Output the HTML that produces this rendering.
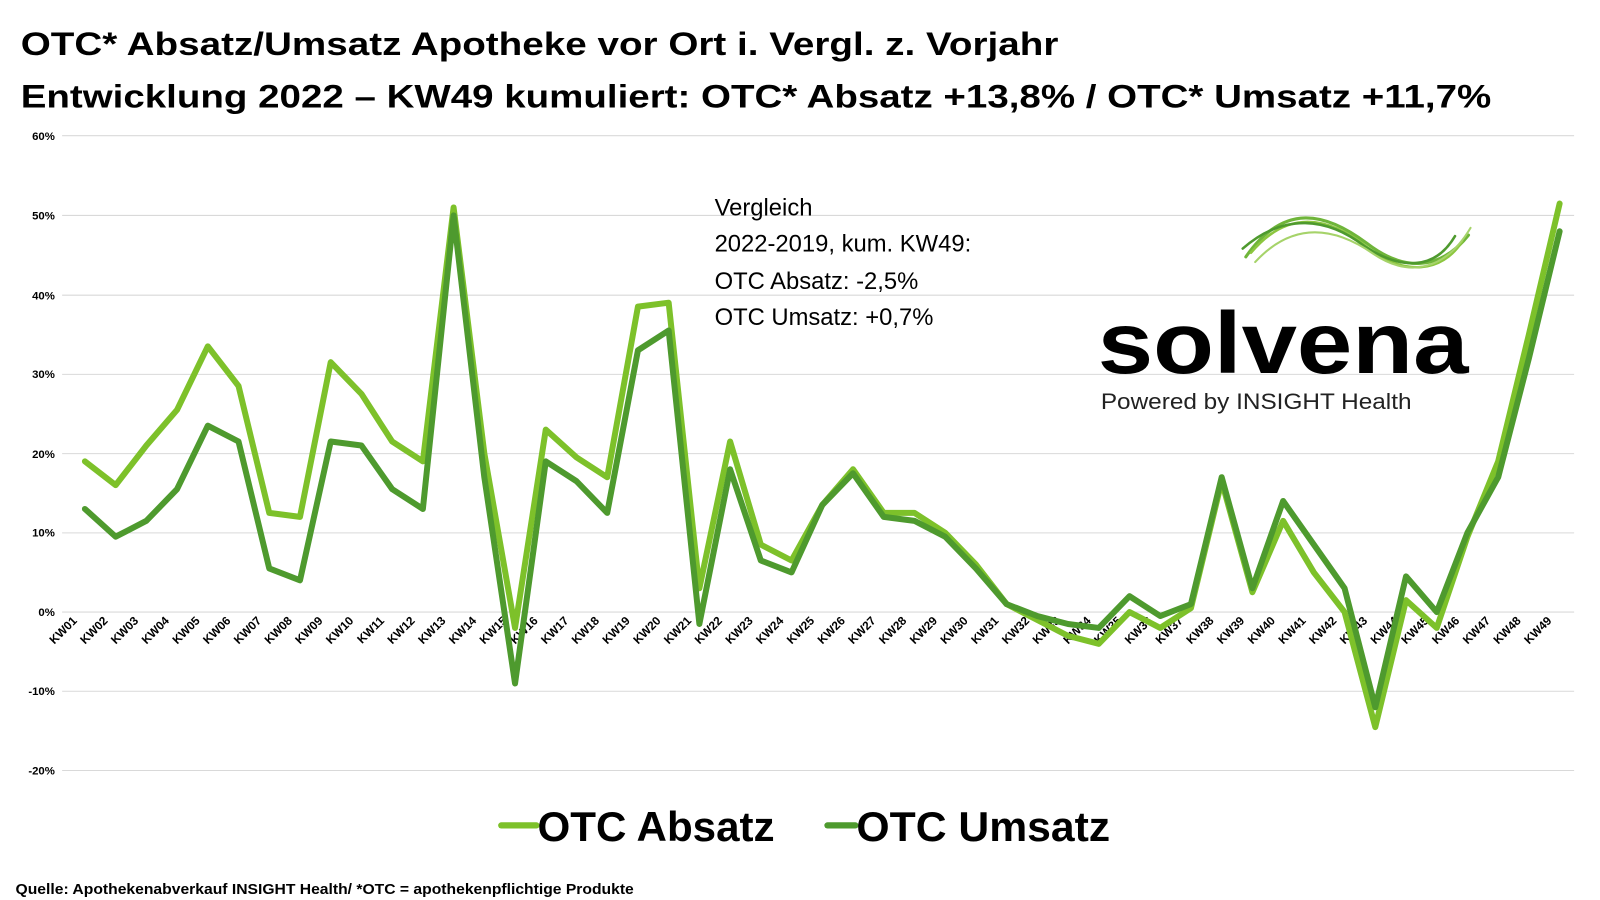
<!DOCTYPE html>
<html><head><meta charset="utf-8"><style>
html,body{margin:0;padding:0;background:#fff;width:1600px;height:900px;overflow:hidden}
svg{display:block}
text{font-family:"Liberation Sans",sans-serif}
</style></head><body>
<svg width="1600" height="900" viewBox="0 0 1545 869" xmlns="http://www.w3.org/2000/svg">
<rect width="1545" height="869" fill="#fff"/>
<text x="20" y="53" font-size="31" font-weight="bold" textLength="1002" lengthAdjust="spacingAndGlyphs">OTC* Absatz/Umsatz Apotheke vor Ort i. Vergl. z. Vorjahr</text>
<text x="20" y="104" font-size="31" font-weight="bold" textLength="1420" lengthAdjust="spacingAndGlyphs">Entwicklung 2022 – KW49 kumuliert: OTC* Absatz +13,8% / OTC* Umsatz +11,7%</text>
<g stroke="#d9d9d9" stroke-width="1">
<line x1="60" x2="1520" y1="131" y2="131"/><line x1="60" x2="1520" y1="208" y2="208"/>
<line x1="60" x2="1520" y1="285" y2="285"/><line x1="60" x2="1520" y1="361.5" y2="361.5"/>
<line x1="60" x2="1520" y1="438" y2="438"/><line x1="60" x2="1520" y1="514.5" y2="514.5"/>
<line x1="60" x2="1520" y1="591" y2="591"/><line x1="60" x2="1520" y1="667.5" y2="667.5"/>
<line x1="60" x2="1520" y1="744" y2="744"/>
</g>
<g font-size="11" font-weight="bold" text-anchor="end">
<text x="53" y="135">60%</text><text x="53" y="212">50%</text><text x="53" y="289">40%</text>
<text x="53" y="365">30%</text><text x="53" y="442">20%</text><text x="53" y="518">10%</text>
<text x="53" y="595">0%</text><text x="53" y="671">-10%</text><text x="53" y="748">-20%</text>
</g>
<g font-size="11.5" font-weight="bold" text-anchor="end">
<text transform="translate(75,600) rotate(-45)">KW01</text>
<text transform="translate(104.7,600) rotate(-45)">KW02</text>
<text transform="translate(134.3,600) rotate(-45)">KW03</text>
<text transform="translate(164,600) rotate(-45)">KW04</text>
<text transform="translate(193.7,600) rotate(-45)">KW05</text>
<text transform="translate(223.3,600) rotate(-45)">KW06</text>
<text transform="translate(253,600) rotate(-45)">KW07</text>
<text transform="translate(282.7,600) rotate(-45)">KW08</text>
<text transform="translate(312.3,600) rotate(-45)">KW09</text>
<text transform="translate(342,600) rotate(-45)">KW10</text>
<text transform="translate(371.7,600) rotate(-45)">KW11</text>
<text transform="translate(401.3,600) rotate(-45)">KW12</text>
<text transform="translate(431,600) rotate(-45)">KW13</text>
<text transform="translate(460.7,600) rotate(-45)">KW14</text>
<text transform="translate(490.3,600) rotate(-45)">KW15</text>
<text transform="translate(520,600) rotate(-45)">KW16</text>
<text transform="translate(549.7,600) rotate(-45)">KW17</text>
<text transform="translate(579.3,600) rotate(-45)">KW18</text>
<text transform="translate(609,600) rotate(-45)">KW19</text>
<text transform="translate(638.7,600) rotate(-45)">KW20</text>
<text transform="translate(668.3,600) rotate(-45)">KW21</text>
<text transform="translate(698,600) rotate(-45)">KW22</text>
<text transform="translate(727.7,600) rotate(-45)">KW23</text>
<text transform="translate(757.3,600) rotate(-45)">KW24</text>
<text transform="translate(787,600) rotate(-45)">KW25</text>
<text transform="translate(816.7,600) rotate(-45)">KW26</text>
<text transform="translate(846.3,600) rotate(-45)">KW27</text>
<text transform="translate(876,600) rotate(-45)">KW28</text>
<text transform="translate(905.7,600) rotate(-45)">KW29</text>
<text transform="translate(935.3,600) rotate(-45)">KW30</text>
<text transform="translate(965,600) rotate(-45)">KW31</text>
<text transform="translate(994.7,600) rotate(-45)">KW32</text>
<text transform="translate(1024.3,600) rotate(-45)">KW33</text>
<text transform="translate(1054,600) rotate(-45)">KW34</text>
<text transform="translate(1083.7,600) rotate(-45)">KW35</text>
<text transform="translate(1113.3,600) rotate(-45)">KW36</text>
<text transform="translate(1143,600) rotate(-45)">KW37</text>
<text transform="translate(1172.7,600) rotate(-45)">KW38</text>
<text transform="translate(1202.3,600) rotate(-45)">KW39</text>
<text transform="translate(1232,600) rotate(-45)">KW40</text>
<text transform="translate(1261.7,600) rotate(-45)">KW41</text>
<text transform="translate(1291.3,600) rotate(-45)">KW42</text>
<text transform="translate(1321,600) rotate(-45)">KW43</text>
<text transform="translate(1350.7,600) rotate(-45)">KW44</text>
<text transform="translate(1380.3,600) rotate(-45)">KW45</text>
<text transform="translate(1410,600) rotate(-45)">KW46</text>
<text transform="translate(1439.7,600) rotate(-45)">KW47</text>
<text transform="translate(1469.3,600) rotate(-45)">KW48</text>
<text transform="translate(1499,600) rotate(-45)">KW49</text>
</g>
<g transform="translate(82,591) scale(29.667,-7.66)" fill="none" stroke-linejoin="round" stroke-linecap="round">
<polyline vector-effect="non-scaling-stroke" stroke="#7dc12a" stroke-width="6" points="0,19 1,16 2,21 3,25.5 4,33.5 5,28.5 6,12.5 7,12 8,31.5 9,27.5 10,21.5 11,19 12,51 13,20 14,-2 15,23 16,19.5 17,17 18,38.5 19,39 20,3 21,21.5 22,8.5 23,6.5 24,13.5 25,18 26,12.5 27,12.5 28,10 29,6 30,1 31,-1 32,-3 33,-4 34,0 35,-2 36,0.5 37,16.5 38,2.5 39,11.5 40,5 41,0 42,-14.5 43,1.5 44,-2 45,9.5 46,19 47,35 48,51.5"/>
<polyline vector-effect="non-scaling-stroke" stroke="#4e9a2e" stroke-width="6" points="0,13 1,9.5 2,11.5 3,15.5 4,23.5 5,21.5 6,5.5 7,4 8,21.5 9,21 10,15.5 11,13 12,50 13,17 14,-9 15,19 16,16.5 17,12.5 18,33 19,35.5 20,-1.5 21,18 22,6.5 23,5 24,13.5 25,17.5 26,12 27,11.5 28,9.5 29,5.5 30,1 31,-0.5 32,-1.5 33,-2 34,2 35,-0.5 36,1 37,17 38,3 39,14 40,8.5 41,3 42,-12 43,4.5 44,0 45,10 46,17 47,32 48,48"/>
</g>
<g font-size="23" fill="#000">
<text x="690" y="208">Vergleich</text>
<text x="690" y="243">2022-2019, kum. KW49:</text>
<text x="690" y="279">OTC Absatz:   -2,5%</text>
<text x="690" y="314">OTC Umsatz:  +0,7%</text>
</g>
<g fill="none" stroke-linecap="round">
<path d="M1203,248 C1240,195 1280,205 1320,235 C1355,262 1390,262 1418,227" stroke="#6fb53a" stroke-width="3"/>
<path d="M1208,244 C1245,200 1285,210 1322,240 C1356,266 1392,264 1412,233" stroke="#8cc63f" stroke-width="2.5"/>
<path d="M1200,240 C1240,205 1282,210 1318,238 C1352,260 1385,262 1405,228" stroke="#4e9a2e" stroke-width="2.5"/>
<path d="M1212,253 C1250,212 1290,220 1326,245 C1360,268 1395,262 1420,220" stroke="#a6d36a" stroke-width="2"/>
</g>
<text x="1060" y="360" font-size="84" font-weight="bold" textLength="358" lengthAdjust="spacingAndGlyphs">solvena</text>
<text x="1063" y="395" font-size="21" fill="#222" textLength="300" lengthAdjust="spacingAndGlyphs">Powered by INSIGHT Health</text>
<line x1="484" x2="518" y1="797" y2="797" stroke="#7dc12a" stroke-width="6" stroke-linecap="round"/>
<text x="519" y="812" font-size="40" font-weight="bold" textLength="229" lengthAdjust="spacingAndGlyphs">OTC Absatz</text>
<line x1="799" x2="826" y1="797" y2="797" stroke="#4e9a2e" stroke-width="6" stroke-linecap="round"/>
<text x="827" y="812" font-size="40" font-weight="bold" textLength="245" lengthAdjust="spacingAndGlyphs">OTC Umsatz</text>
<text x="15" y="863" font-size="14" font-weight="bold" textLength="597" lengthAdjust="spacingAndGlyphs">Quelle: Apothekenabverkauf INSIGHT Health/ *OTC = apothekenpflichtige Produkte</text>
</svg>
</body></html>
